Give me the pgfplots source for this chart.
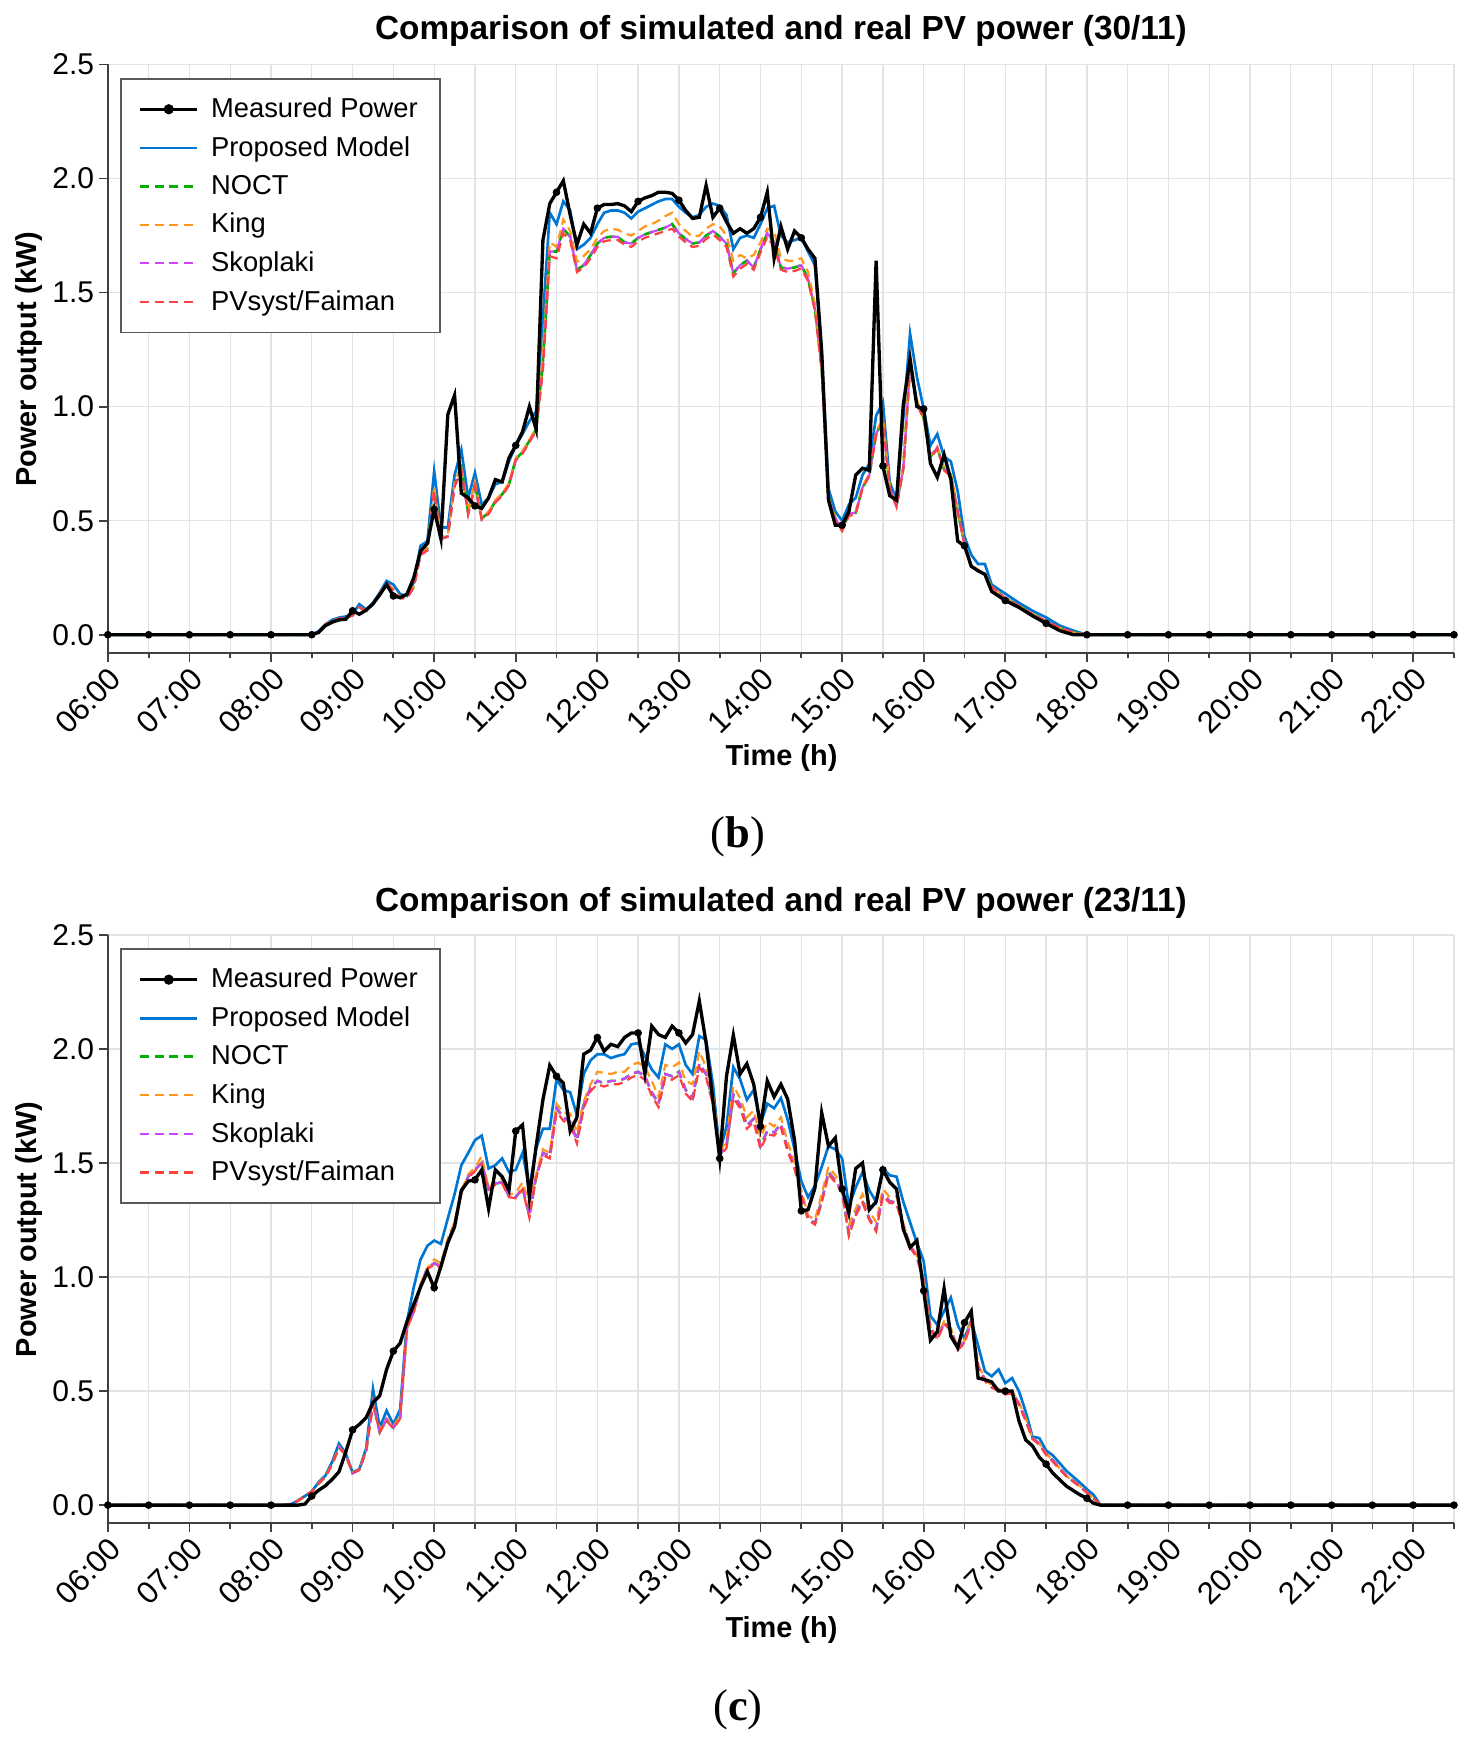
\documentclass[border=0pt]{standalone}
\usepackage{fontspec}
\setmainfont{Liberation Sans}
\newfontfamily\capfont{Liberation Serif}
\usepackage{pgfplots}
\pgfplotsset{compat=1.18}
\usepackage{pgfplotstable}

\definecolor{cblue}{RGB}{0,118,212}
\definecolor{cgreen}{RGB}{0,175,0}
\definecolor{corange}{RGB}{255,150,30}
\definecolor{cmag}{RGB}{204,68,255}
\definecolor{cred}{RGB}{255,64,64}

% t meas prop noct king skop pvs   (30/11)
\pgfplotstableread{
t meas prop noct king skop pvs
6.0 0 0 0 0 0 0
6.5 0 0 0 0 0 0
7.0 0 0 0 0 0 0
7.5 0 0 0 0 0 0
8.0 0 0 0 0 0 0
8.5 0 0 0 0 0 0
8.583 0.01 0.015 0.012 0.012 0.012 0.012
8.667 0.04 0.045 0.045 0.045 0.045 0.045
8.75 0.055 0.065 0.06 0.06 0.06 0.06
8.833 0.065 0.075 0.07 0.07 0.07 0.07
8.917 0.068 0.08 0.075 0.075 0.075 0.075
9.0 0.105 0.09 0.085 0.085 0.085 0.085
9.083 0.09 0.134 0.12 0.12 0.12 0.12
9.167 0.108 0.11 0.105 0.105 0.105 0.105
9.25 0.135 0.14 0.135 0.135 0.135 0.135
9.333 0.175 0.185 0.18 0.18 0.18 0.18
9.417 0.22 0.236 0.225 0.225 0.225 0.225
9.5 0.17 0.22 0.195 0.2 0.195 0.195
9.583 0.163 0.178 0.165 0.165 0.16 0.16
9.667 0.178 0.17 0.165 0.165 0.16 0.16
9.75 0.25 0.23 0.21 0.21 0.21 0.21
9.833 0.367 0.39 0.36 0.36 0.35 0.35
9.917 0.40 0.41 0.38 0.38 0.37 0.37
10.0 0.55 0.717 0.64 0.65 0.63 0.63
10.083 0.42 0.47 0.425 0.43 0.42 0.42
10.167 0.965 0.47 0.43 0.435 0.43 0.43
10.25 1.05 0.70 0.66 0.67 0.65 0.65
10.333 0.62 0.81 0.73 0.74 0.72 0.72
10.417 0.60 0.60 0.535 0.54 0.53 0.53
10.5 0.565 0.71 0.66 0.67 0.65 0.65
10.583 0.554 0.57 0.51 0.515 0.505 0.505
10.667 0.60 0.60 0.535 0.54 0.53 0.53
10.75 0.68 0.66 0.585 0.59 0.58 0.58
10.833 0.67 0.67 0.615 0.62 0.61 0.61
10.917 0.775 0.76 0.66 0.665 0.655 0.655
11.0 0.83 0.83 0.77 0.775 0.765 0.765
11.083 0.89 0.88 0.80 0.805 0.795 0.795
11.167 1.0 0.936 0.85 0.855 0.845 0.845
11.25 0.90 0.98 0.90 0.905 0.895 0.895
11.333 1.73 1.39 1.20 1.24 1.17 1.16
11.417 1.89 1.85 1.68 1.72 1.68 1.66
11.5 1.94 1.80 1.68 1.70 1.68 1.65
11.583 1.99 1.90 1.78 1.82 1.78 1.76
11.667 1.84 1.86 1.745 1.77 1.745 1.73
11.75 1.71 1.69 1.60 1.635 1.60 1.59
11.833 1.80 1.71 1.62 1.66 1.62 1.61
11.917 1.76 1.74 1.665 1.69 1.665 1.65
12.0 1.87 1.80 1.715 1.74 1.715 1.70
12.083 1.886 1.85 1.74 1.77 1.74 1.725
12.167 1.886 1.86 1.745 1.78 1.745 1.73
12.25 1.89 1.86 1.745 1.775 1.745 1.73
12.333 1.88 1.85 1.72 1.76 1.72 1.71
12.417 1.855 1.825 1.715 1.75 1.715 1.70
12.5 1.90 1.855 1.74 1.77 1.74 1.725
12.583 1.915 1.87 1.755 1.79 1.755 1.74
12.667 1.925 1.885 1.765 1.80 1.765 1.75
12.75 1.94 1.90 1.775 1.815 1.775 1.76
12.833 1.94 1.91 1.785 1.835 1.785 1.77
12.917 1.935 1.91 1.80 1.85 1.80 1.78
13.0 1.905 1.876 1.76 1.80 1.76 1.745
13.083 1.86 1.85 1.735 1.77 1.735 1.72
13.167 1.825 1.83 1.715 1.745 1.715 1.70
13.25 1.83 1.84 1.72 1.75 1.72 1.705
13.333 1.97 1.876 1.75 1.78 1.75 1.735
13.417 1.83 1.89 1.77 1.80 1.77 1.755
13.5 1.87 1.88 1.745 1.79 1.745 1.73
13.583 1.81 1.84 1.715 1.75 1.715 1.70
13.667 1.76 1.69 1.585 1.64 1.585 1.57
13.75 1.78 1.74 1.62 1.665 1.62 1.605
13.833 1.76 1.75 1.64 1.65 1.64 1.625
13.917 1.78 1.74 1.61 1.665 1.61 1.60
14.0 1.83 1.80 1.69 1.72 1.69 1.675
14.083 1.94 1.87 1.76 1.78 1.76 1.745
14.167 1.65 1.88 1.72 1.77 1.72 1.70
14.25 1.79 1.75 1.61 1.65 1.61 1.60
14.333 1.69 1.72 1.605 1.64 1.605 1.59
14.417 1.77 1.73 1.61 1.64 1.61 1.595
14.5 1.74 1.74 1.62 1.65 1.62 1.605
14.583 1.69 1.68 1.56 1.59 1.56 1.55
14.667 1.65 1.62 1.43 1.45 1.43 1.42
14.75 1.24 1.24 1.17 1.18 1.17 1.16
14.833 0.59 0.64 0.60 0.60 0.60 0.59
14.917 0.48 0.54 0.51 0.51 0.51 0.50
15.0 0.48 0.50 0.46 0.465 0.46 0.455
15.083 0.54 0.57 0.53 0.535 0.53 0.52
15.167 0.70 0.60 0.535 0.54 0.535 0.53
15.25 0.73 0.70 0.645 0.65 0.645 0.64
15.333 0.72 0.75 0.70 0.705 0.70 0.695
15.417 1.64 0.96 0.88 0.89 0.88 0.875
15.5 0.74 1.02 0.94 0.95 0.94 0.935
15.583 0.61 0.67 0.645 0.65 0.645 0.64
15.667 0.59 0.59 0.565 0.57 0.565 0.56
15.75 1.01 0.95 0.73 0.74 0.73 0.725
15.833 1.21 1.32 1.18 1.19 1.18 1.17
15.917 1.0 1.13 1.02 1.03 1.02 1.01
16.0 0.99 0.99 0.95 0.955 0.95 0.945
16.083 0.75 0.83 0.78 0.785 0.78 0.775
16.167 0.69 0.88 0.82 0.825 0.82 0.815
16.25 0.79 0.78 0.725 0.73 0.725 0.72
16.333 0.68 0.76 0.70 0.705 0.70 0.695
16.417 0.41 0.63 0.54 0.545 0.54 0.535
16.5 0.39 0.43 0.40 0.405 0.40 0.395
16.583 0.30 0.35 0.30 0.305 0.30 0.30
16.667 0.28 0.31 0.28 0.285 0.28 0.28
16.75 0.265 0.31 0.265 0.27 0.265 0.265
16.833 0.19 0.22 0.21 0.21 0.21 0.21
17.0 0.15 0.18 0.16 0.16 0.16 0.16
17.167 0.12 0.14 0.127 0.127 0.127 0.127
17.333 0.083 0.105 0.09 0.09 0.09 0.09
17.5 0.05 0.076 0.06 0.06 0.06 0.06
17.667 0.018 0.04 0.03 0.03 0.03 0.03
17.833 0 0.018 0.01 0.01 0.01 0.01
18.0 0 0 0 0 0 0
18.5 0 0 0 0 0 0
19.0 0 0 0 0 0 0
19.5 0 0 0 0 0 0
20.0 0 0 0 0 0 0
20.5 0 0 0 0 0 0
21.0 0 0 0 0 0 0
21.5 0 0 0 0 0 0
22.0 0 0 0 0 0 0
22.5 0 0 0 0 0 0
}\dataB

\pgfplotstableread{
t v
6.0 0
6.5 0
7.0 0
7.5 0
8.0 0
8.5 0
9.0 0.105
9.5 0.17
10.0 0.55
10.5 0.565
11.0 0.83
11.5 1.94
12.0 1.87
12.5 1.90
13.0 1.905
13.5 1.87
14.0 1.83
14.5 1.74
15.0 0.48
15.5 0.74
16.0 0.99
16.5 0.39
17.0 0.15
17.5 0.05
18.0 0
18.5 0
19.0 0
19.5 0
20.0 0
20.5 0
21.0 0
21.5 0
22.0 0
22.5 0
}\marksB

% (23/11)
\pgfplotstableread{
t meas prop noct king skop pvs
6.0 0 0 0 0 0 0
6.5 0 0 0 0 0 0
7.0 0 0 0 0 0 0
7.5 0 0 0 0 0 0
8.0 0 0 0 0 0 0
8.167 0 0 0 0 0 0
8.25 0 0.005 0.005 0.005 0.005 0.005
8.333 0 0.02 0.02 0.02 0.02 0.02
8.417 0.005 0.04 0.04 0.04 0.04 0.04
8.5 0.04 0.06 0.06 0.06 0.06 0.06
8.583 0.065 0.10 0.095 0.095 0.095 0.095
8.667 0.085 0.13 0.125 0.125 0.125 0.125
8.75 0.113 0.19 0.18 0.18 0.18 0.18
8.833 0.146 0.27 0.255 0.256 0.255 0.25
8.917 0.233 0.226 0.22 0.22 0.22 0.22
9.0 0.33 0.143 0.14 0.14 0.14 0.14
9.083 0.354 0.158 0.155 0.155 0.155 0.155
9.167 0.384 0.25 0.24 0.24 0.24 0.24
9.25 0.45 0.51 0.45 0.45 0.45 0.44
9.333 0.48 0.34 0.32 0.33 0.32 0.32
9.417 0.595 0.414 0.376 0.38 0.376 0.37
9.5 0.675 0.354 0.34 0.346 0.34 0.335
9.583 0.71 0.42 0.384 0.39 0.384 0.38
9.667 0.805 0.805 0.78 0.78 0.78 0.775
9.75 0.88 0.956 0.85 0.85 0.85 0.845
9.833 0.956 1.077 0.96 0.97 0.96 0.955
9.917 1.024 1.137 1.04 1.04 1.04 1.035
10.0 0.953 1.16 1.06 1.077 1.06 1.055
10.083 1.047 1.145 1.047 1.06 1.047 1.04
10.167 1.15 1.257 1.15 1.17 1.15 1.145
10.25 1.22 1.363 1.235 1.24 1.235 1.23
10.333 1.38 1.49 1.37 1.38 1.37 1.365
10.417 1.42 1.544 1.44 1.45 1.44 1.435
10.5 1.426 1.60 1.47 1.48 1.47 1.465
10.583 1.47 1.62 1.50 1.53 1.50 1.495
10.667 1.30 1.476 1.385 1.39 1.385 1.38
10.75 1.47 1.49 1.41 1.42 1.41 1.405
10.833 1.44 1.52 1.415 1.43 1.415 1.41
10.917 1.38 1.46 1.355 1.36 1.355 1.35
11.0 1.64 1.47 1.35 1.37 1.35 1.345
11.083 1.667 1.544 1.39 1.415 1.39 1.385
11.167 1.35 1.39 1.27 1.32 1.27 1.26
11.25 1.574 1.566 1.44 1.45 1.44 1.435
11.333 1.777 1.65 1.544 1.56 1.544 1.535
11.417 1.928 1.65 1.53 1.544 1.53 1.52
11.5 1.88 1.867 1.74 1.76 1.74 1.725
11.583 1.85 1.82 1.70 1.72 1.70 1.685
11.667 1.64 1.81 1.68 1.717 1.68 1.665
11.75 1.70 1.71 1.60 1.634 1.60 1.585
11.833 1.977 1.89 1.755 1.77 1.755 1.74
11.917 1.995 1.95 1.83 1.845 1.83 1.815
12.0 2.05 1.977 1.86 1.90 1.86 1.845
12.083 1.99 1.977 1.85 1.895 1.85 1.835
12.167 2.02 1.96 1.86 1.89 1.86 1.845
12.25 2.01 1.97 1.86 1.90 1.86 1.845
12.333 2.05 1.977 1.87 1.90 1.87 1.855
12.417 2.07 2.02 1.89 1.93 1.89 1.875
12.5 2.07 2.026 1.90 1.94 1.90 1.885
12.583 1.89 1.97 1.88 1.92 1.88 1.865
12.667 2.10 1.91 1.81 1.86 1.81 1.795
12.75 2.063 1.875 1.76 1.79 1.76 1.745
12.833 2.05 2.02 1.89 1.93 1.89 1.875
12.917 2.10 2.0 1.88 1.92 1.88 1.865
13.0 2.07 2.02 1.90 1.94 1.90 1.885
13.083 2.026 1.93 1.82 1.86 1.82 1.805
13.167 2.063 1.89 1.785 1.845 1.785 1.77
13.25 2.21 2.056 1.935 1.99 1.935 1.92
13.333 2.026 2.04 1.89 1.92 1.89 1.875
13.417 1.77 1.845 1.77 1.80 1.77 1.755
13.5 1.52 1.544 1.536 1.544 1.536 1.53
13.583 1.88 1.66 1.574 1.60 1.574 1.565
13.667 2.06 1.92 1.80 1.837 1.80 1.785
13.75 1.89 1.867 1.755 1.785 1.755 1.74
13.833 1.935 1.777 1.664 1.70 1.664 1.65
13.917 1.845 1.82 1.694 1.73 1.694 1.68
14.0 1.66 1.67 1.574 1.61 1.574 1.56
14.083 1.86 1.76 1.64 1.68 1.64 1.625
14.167 1.79 1.74 1.634 1.66 1.634 1.62
14.25 1.845 1.785 1.67 1.70 1.67 1.655
14.333 1.78 1.69 1.56 1.59 1.56 1.55
14.417 1.60 1.56 1.483 1.506 1.483 1.475
14.5 1.29 1.42 1.363 1.38 1.363 1.355
14.583 1.295 1.35 1.257 1.27 1.257 1.25
14.667 1.39 1.40 1.235 1.25 1.235 1.23
14.75 1.72 1.483 1.333 1.363 1.333 1.325
14.833 1.574 1.574 1.46 1.483 1.46 1.45
14.917 1.61 1.56 1.423 1.446 1.423 1.415
15.0 1.386 1.52 1.378 1.40 1.378 1.37
15.083 1.28 1.31 1.19 1.227 1.19 1.18
15.167 1.476 1.393 1.28 1.30 1.28 1.27
15.25 1.50 1.46 1.333 1.363 1.333 1.325
15.333 1.295 1.38 1.257 1.29 1.257 1.25
15.417 1.33 1.33 1.21 1.24 1.21 1.20
15.5 1.47 1.476 1.363 1.386 1.363 1.355
15.583 1.416 1.446 1.333 1.35 1.333 1.325
15.667 1.386 1.44 1.325 1.355 1.325 1.32
15.75 1.21 1.33 1.227 1.235 1.227 1.22
15.833 1.13 1.24 1.137 1.14 1.137 1.13
15.917 1.16 1.15 1.09 1.095 1.09 1.085
16.0 0.94 1.07 0.986 0.99 0.986 0.98
16.083 0.723 0.83 0.776 0.78 0.776 0.77
16.167 0.76 0.79 0.73 0.735 0.73 0.725
16.25 0.95 0.85 0.80 0.805 0.80 0.795
16.333 0.74 0.91 0.77 0.775 0.77 0.765
16.417 0.69 0.79 0.685 0.69 0.685 0.68
16.5 0.80 0.73 0.715 0.72 0.715 0.71
16.583 0.85 0.81 0.806 0.81 0.806 0.80
16.667 0.557 0.70 0.61 0.615 0.61 0.605
16.75 0.55 0.587 0.55 0.555 0.55 0.545
16.833 0.54 0.565 0.52 0.525 0.52 0.515
16.917 0.50 0.595 0.505 0.51 0.505 0.50
17.0 0.50 0.535 0.49 0.495 0.49 0.485
17.083 0.50 0.557 0.497 0.50 0.497 0.49
17.167 0.37 0.50 0.444 0.45 0.444 0.44
17.25 0.286 0.41 0.376 0.38 0.376 0.37
17.333 0.26 0.30 0.294 0.295 0.294 0.29
17.417 0.21 0.294 0.27 0.27 0.27 0.265
17.5 0.18 0.24 0.226 0.226 0.226 0.22
17.583 0.14 0.218 0.196 0.196 0.196 0.19
17.75 0.083 0.15 0.128 0.128 0.128 0.125
17.917 0.045 0.098 0.083 0.083 0.083 0.08
18.0 0.03 0.07 0.055 0.055 0.055 0.055
18.083 0.008 0.045 0.03 0.03 0.03 0.03
18.167 0 0 0 0 0 0
18.5 0 0 0 0 0 0
19.0 0 0 0 0 0 0
19.5 0 0 0 0 0 0
20.0 0 0 0 0 0 0
20.5 0 0 0 0 0 0
21.0 0 0 0 0 0 0
21.5 0 0 0 0 0 0
22.0 0 0 0 0 0 0
22.5 0 0 0 0 0 0
}\dataC

\pgfplotstableread{
t v
6.0 0
6.5 0
7.0 0
7.5 0
8.0 0
8.5 0.04
9.0 0.33
9.5 0.675
10.0 0.953
10.5 1.426
11.0 1.64
11.5 1.88
12.0 2.05
12.5 2.07
13.0 2.07
13.5 1.52
14.0 1.66
14.5 1.29
15.0 1.386
15.5 1.47
16.0 0.94
16.5 0.80
17.0 0.50
17.5 0.18
18.0 0.03
18.5 0
19.0 0
19.5 0
20.0 0
20.5 0
21.0 0
21.5 0
22.0 0
22.5 0
}\marksC

\pgfplotsset{
  pvaxis/.style={
    scale only axis, width=605.5pt, height=264.6pt,
    xmin=6, xmax=22.5, ymin=-0.079, ymax=2.5,
    axis x line*=bottom, axis y line*=left,
    axis line style={black!75, line width=0.9pt},
    xtick={6,7,...,22}, minor xtick={6.5,7.5,...,22.5},
    xticklabels={06:00,07:00,08:00,09:00,10:00,11:00,12:00,13:00,14:00,15:00,16:00,17:00,18:00,19:00,20:00,21:00,22:00},
    ytick={0,0.5,1,1.5,2,2.5},
    /pgf/number format/assume math mode=true,
    yticklabel style={/pgf/number format/fixed, /pgf/number format/fixed zerofill, /pgf/number format/precision=1},
    tick align=outside, major tick length=4pt, minor tick length=2.5pt,
    every tick/.style={black!75, line width=0.8pt},
    grid=both,
    major grid style={black!11, line width=0.6pt},
    minor grid style={black!11, line width=0.6pt},
    yticklabel style={font=\fontsize{13.5}{15}\selectfont, inner sep=2pt},
    xticklabel style={font=\fontsize{14}{16}\selectfont, rotate=45, anchor=north east, inner sep=1pt},
    legend style={at={(0.0091,0.977)}, anchor=north west, draw=black!65, line width=0.7pt,
      font=\fontsize{12.3}{14}\selectfont, cells={anchor=west}, inner xsep=8pt, inner ysep=6.5pt,
      row sep=3pt, /tikz/every odd column/.append style={column sep=3.5pt}},
    legend image code/.code={\draw[#1, mark repeat=2, mark phase=2] plot coordinates {(0pt,0pt) (12.75pt,0pt) (25.5pt,0pt)};},
  },
  smeas/.style={black, line width=1.5pt},
  sprop/.style={cblue, line width=1.2pt},
  snoct/.style={cgreen, line width=1.2pt, dash pattern=on 4pt off 2.5pt},
  sking/.style={corange, line width=1pt, dash pattern=on 4pt off 2.5pt},
  sskop/.style={cmag, line width=1pt, dash pattern=on 4pt off 2.5pt},
  spvs/.style={cred, line width=1pt, dash pattern=on 4pt off 2.5pt},
}

\newcommand{\pvlegend}{%
  \addlegendimage{smeas, mark=*, mark size=1.5pt, mark options={solid, fill=black}}
  \addlegendentry{Measured Power}
  \addlegendimage{sprop}
  \addlegendentry{Proposed Model}
  \addlegendimage{snoct, line width=1.6pt}
  \addlegendentry{NOCT}
  \addlegendimage{sking}
  \addlegendentry{King}
  \addlegendimage{sskop}
  \addlegendentry{Skoplaki}
  \addlegendimage{spvs}
  \addlegendentry{PVsyst/Faiman}
}

\begin{document}
\begin{tikzpicture}
\path[use as bounding box] (0pt,0pt) rectangle (662pt,-784pt);

\begin{axis}[pvaxis, at={(48.5pt,-293.6pt)}, anchor=south west]
\pvlegend
\addplot[sprop, forget plot] table[x=t, y=prop] {\dataB};
\addplot[snoct, forget plot] table[x=t, y=noct] {\dataB};
\addplot[sking, forget plot] table[x=t, y=king] {\dataB};
\addplot[sskop, forget plot] table[x=t, y=skop] {\dataB};
\addplot[spvs, forget plot] table[x=t, y=pvs] {\dataB};
\addplot[smeas, forget plot] table[x=t, y=meas] {\dataB};
\addplot[only marks, mark=*, mark size=1.5pt, black, forget plot] table[x=t, y=v] {\marksB};
\end{axis}

\begin{axis}[pvaxis, at={(48.5pt,-685.1pt)}, anchor=south west]
\pvlegend
\addplot[sprop, forget plot] table[x=t, y=prop] {\dataC};
\addplot[snoct, forget plot] table[x=t, y=noct] {\dataC};
\addplot[sking, forget plot] table[x=t, y=king] {\dataC};
\addplot[sskop, forget plot] table[x=t, y=skop] {\dataC};
\addplot[spvs, forget plot] table[x=t, y=pvs] {\dataC};
\addplot[smeas, forget plot] table[x=t, y=meas] {\dataC};
\addplot[only marks, mark=*, mark size=1.5pt, black, forget plot] table[x=t, y=v] {\marksC};
\end{axis}

\node[font=\bfseries\fontsize{15}{18}\selectfont] at (351.25pt,-14pt) {Comparison of simulated and real PV power (30/11)};
\node[font=\bfseries\fontsize{15}{18}\selectfont] at (351.25pt,-406pt) {Comparison of simulated and real PV power (23/11)};
\node[font=\bfseries\fontsize{13}{15}\selectfont] at (351.5pt,-341pt) {Time (h)};
\node[font=\bfseries\fontsize{13}{15}\selectfont] at (351.5pt,-733pt) {Time (h)};
\node[font=\bfseries\fontsize{13}{15}\selectfont, rotate=90] at (13pt,-161.5pt) {Power output (kW)};
\node[font=\bfseries\fontsize{13}{15}\selectfont, rotate=90] at (13pt,-553pt) {Power output (kW)};
\node[font=\capfont\fontsize{20}{24}\selectfont] at (332pt,-376.5pt) {(\textbf{b})};
\node[font=\capfont\fontsize{20}{24}\selectfont] at (332pt,-769pt) {(\textbf{c})};
\end{tikzpicture}
\end{document}
